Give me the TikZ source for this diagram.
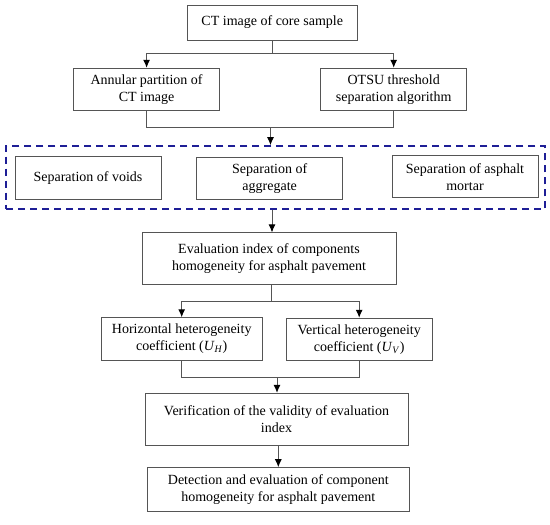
\documentclass[tikz,border=0pt]{standalone}
\usepackage{fontspec}
\setmainfont{Liberation Serif}
\usetikzlibrary{arrows.meta}
\definecolor{linegray}{RGB}{85,85,85}
\definecolor{dashblue}{RGB}{30,30,150}

\begin{document}
\begin{tikzpicture}[x=1pt,y=-1pt,
  box/.style={draw=linegray,line width=1pt,align=center,inner sep=2pt,
    font=\fontsize{14}{17}\selectfont,text=black},
  group/.style={draw=dashblue,line width=1.6pt,dash pattern=on 7pt off 5pt},
  link/.style={draw=linegray,line width=1pt},
  arr/.style={link,-{Latex[length=8pt,width=7pt,color=black]}}]

\useasboundingbox (0,0) rectangle (550,525);

\node[box,minimum width=169.5pt,minimum height=35pt] (C0) at (272.25,22.5) {CT image of core sample};

\node[box,minimum width=146.7pt,minimum height=42.4pt] (A1) at (146.6,89.5) {Annular partition of\\CT image};
\node[box,minimum width=146pt,minimum height=42.2pt] (B1) at (393.7,89.4) {OTSU threshold\\separation algorithm};

\draw[link] (C0.south) -- ++(0,13) coordinate (J1);
\draw[arr] (J1) -| (A1.north);
\draw[arr] (J1) -| (B1.north);

% separation of the three components
\node[group,minimum width=539pt,minimum height=63.3pt] (G0) at (275.5,177.6) {};

\node[box,minimum width=146pt,minimum height=42.3pt] (S1) at (88,177.9) {Separation of voids};
\node[box,minimum width=146pt,minimum height=42.2pt] (S2) at (269.7,178.4) {Separation of\\aggregate};
\node[box,minimum width=146pt,minimum height=42pt] (S3) at (465,176.7) {Separation of asphalt\\mortar};

\coordinate (J2) at (270.5,127.5);
\draw[link] (A1.south) |- (J2);
\draw[link] (B1.south) |- (J2);
\draw[arr] (J2) -- (J2 |- G0.north);

\node[box,minimum width=254pt,minimum height=51.5pt] (E0) at (269,258.7) {Evaluation index of components\\homogeneity for asphalt pavement};

\draw[arr] ([xshift=3pt]E0.north |- G0.south) -- ([xshift=3pt]E0.north);

\node[box,minimum width=161.3pt,minimum height=42.3pt] (H1) at (181.7,338.9) {Horizontal heterogeneity\\coefficient (\textit{U}\textsubscript{\textit{H}})};
\node[box,minimum width=146.3pt,minimum height=42.4pt] (V1) at (359.2,339.5) {Vertical heterogeneity\\coefficient (\textit{U}\textsubscript{\textit{V}})};

\draw[link] ([xshift=2.7pt]E0.south) -- ++(0,17) coordinate (J3);
\draw[arr] (J3) -| (H1.north);
\draw[arr] (J3) -| (V1.north);

\node[box,minimum width=263pt,minimum height=51.7pt] (R0) at (276.5,419.2) {Verification of the validity of evaluation\\index};
\node[box,minimum width=262pt,minimum height=44pt] (D0) at (278.3,489.7) {Detection and evaluation of component\\homogeneity for asphalt pavement};

\coordinate (J4) at (277,377.3);
\draw[link] (H1.south) |- (J4);
\draw[link] (V1.south) |- (J4);
\draw[arr] (J4) -- (J4 |- R0.north);

\draw[arr] (R0.south -| D0.north) -- (D0.north);

\end{tikzpicture}
\end{document}
